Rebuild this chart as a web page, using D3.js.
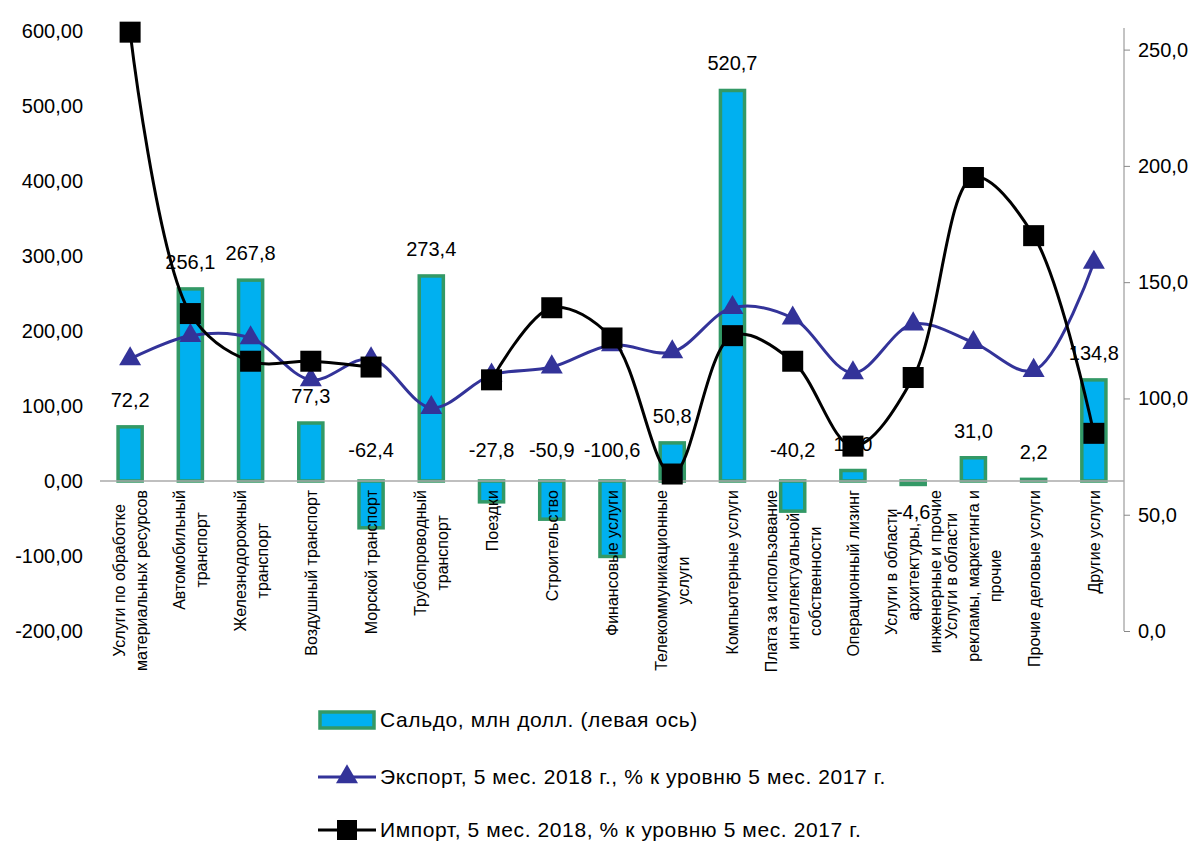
<!DOCTYPE html>
<html>
<head>
<meta charset="utf-8">
<script src="https://cdn.jsdelivr.net/npm/d3@7"></script>
<style>
body { margin: 0; background: #fff; }
text { font-family: Arial, "Liberation Sans", sans-serif; fill: #000; }
</style>
</head>
<body>
<div id="chart"></div>
<script>
// categories (line breaks as in the original chart)
var categories = [
  "Услуги по обработке\nматериальных ресурсов",
  "Автомобильный\nтранспорт",
  "Железнодорожный\nтранспорт",
  "Воздушный транспорт",
  "Морской транспорт",
  "Трубопроводный\nтранспорт",
  "Поездки",
  "Строительство",
  "Финансовые услуги",
  "Телекоммуникационные\nуслуги",
  "Компьютерные услуги",
  "Плата за использование\nинтеллектуальной\nсобственности",
  "Операционный лизинг",
  "Услуги в области\nархитектуры,\nинженерные и прочие",
  "Услуги в области\nрекламы, маркетинга и\nпрочие",
  "Прочие деловые услуги",
  "Другие услуги"
];
// сальдо, млн долл. (left axis)
var saldo = [72.2, 256.1, 267.8, 77.3, -62.4, 273.4, -27.8, -50.9, -100.6,
             50.8, 520.7, -40.2, 14.0, -4.6, 31.0, 2.2, 134.8];
// экспорт, % (right axis)
var exportPct = [117, 127, 126, 108, 117, 96, 110, 113.5, 123,
                 120, 139, 134.5, 111, 132, 124, 112, 158.5];
// импорт, % (right axis); no value for Трубопроводный транспорт
var importPct = [257.5, 136.5, 116, 116, 113.5, null, 108, 139, 126,
                 67.5, 127, 116, 79.5, 109, 195, 170, 85];
var leftTicks = [-200, -100, 0, 100, 200, 300, 400, 500, 600];
var rightTicks = [0, 50, 100, 150, 200, 250];
var legendNames = [
  "Сальдо, млн долл. (левая ось)",
  "Экспорт, 5 мес. 2018 г., % к уровню 5 мес. 2017 г.",
  "Импорт, 5 мес. 2018, % к уровню 5 мес. 2017 г."
];

var w = 1197, h = 842;
var mLeft = 100, mRight = 1124, mTop = 31, mBottom = 631;

var svg = d3.select("#chart").append("svg")
  .attr("width", w).attr("height", h);

var x = d3.scaleBand()
  .domain(d3.range(categories.length))
  .range([mLeft, mRight])
  .paddingInner(0.6)
  .paddingOuter(0.3);
var y = d3.scaleLinear().domain([-200, 600]).range([mBottom, mTop]);
var y2 = d3.scaleLinear().domain([0, 258]).range([mBottom, mTop]);

var fmt2 = function(v) { return d3.format(".2f")(v).replace(".", ",").replace("−", "-"); };
var fmt1 = function(v) { return d3.format(".1f")(v).replace(".", ",").replace("−", "-"); };

// left axis (labels only)
var leftAxis = d3.axisLeft(y).tickValues(leftTicks).tickSize(0).tickPadding(17)
  .tickFormat(fmt2);
var gl = svg.append("g").attr("transform", "translate(" + mLeft + ",0)").call(leftAxis);
gl.select(".domain").remove();
gl.selectAll("text").attr("font-size", "20px").attr("fill", "#000")
  .style("font-family", "Arial, 'Liberation Sans', sans-serif");

// right axis
var rightAxis = d3.axisRight(y2).tickValues(rightTicks).tickSize(6).tickPadding(8)
  .tickFormat(fmt1);
var gr = svg.append("g").attr("transform", "translate(" + mRight + ",0)").call(rightAxis);
gr.select(".domain").attr("stroke", "#888").attr("d", "M0," + (mTop - 3) + "V" + mBottom);
gr.selectAll(".tick line").attr("stroke", "#888");
gr.selectAll("text").attr("font-size", "20px").attr("fill", "#000")
  .style("font-family", "Arial, 'Liberation Sans', sans-serif");

// bars
svg.selectAll("rect.bar")
  .data(saldo)
  .enter()
  .append("rect")
  .attr("class", "bar")
  .attr("x", function(d, i) { return x(i); })
  .attr("width", x.bandwidth())
  .attr("y", function(d) { return y(Math.max(0, d)); })
  .attr("height", function(d) { return Math.abs(y(d) - y(0)); })
  .attr("fill", "#00b0f0")
  .attr("stroke", "#339966")
  .attr("stroke-width", 3.5);

// zero line
svg.append("line")
  .attr("x1", mLeft).attr("x2", mRight)
  .attr("y1", y(0)).attr("y2", y(0))
  .attr("stroke", "#aaa").attr("stroke-width", 1.5);

// bar value labels
svg.selectAll("text.val")
  .data(saldo)
  .enter()
  .append("text")
  .attr("class", "val")
  .text(function(d) { return fmt1(d); })
  .attr("x", function(d, i) { return x(i) + x.bandwidth() / 2; })
  .attr("y", function(d) {
    if (d >= 0) return y(d) - 20;
    if (d > -10) return y(0) + 38;
    return y(0) - 24;
  })
  .attr("font-size", "20px")
  .attr("text-anchor", "middle");

// category labels, rotated
var catG = svg.selectAll("g.cat")
  .data(categories)
  .enter()
  .append("g")
  .attr("class", "cat")
  .attr("transform", function(d, i) {
    return "translate(" + (x(i) + x.bandwidth() / 2) + ",490) rotate(-90)";
  });
catG.each(function(d) {
  var g = d3.select(this);
  var lines = d.split("\n");
  var n = lines.length;
  var lh = 22;
  var texts = lines.map(function(s, k) {
    return g.append("text")
      .text(s)
      .attr("font-size", "16px")
      .attr("text-anchor", "middle")
      .attr("y", (k - (n - 1) / 2) * lh + 6);
  });
  var maxLen = d3.max(texts, function(t) { return t.node().getComputedTextLength(); });
  texts.forEach(function(t) { t.attr("x", -maxLen / 2); });
});

// lines
var cx = function(i) { return x(i) + x.bandwidth() / 2; };
var exportLine = d3.line()
  .x(function(d, i) { return cx(i); })
  .y(function(d) { return y2(d); })
  .curve(d3.curveCatmullRom.alpha(0.5));
var importLine = d3.line()
  .defined(function(d) { return d !== null; })
  .x(function(d, i) { return cx(i); })
  .y(function(d) { return y2(d); })
  .curve(d3.curveCatmullRom.alpha(0.5));

svg.append("path")
  .attr("d", exportLine(exportPct))
  .attr("fill", "none")
  .attr("stroke", "#333399")
  .attr("stroke-width", 3);

var tri = d3.symbol().type(d3.symbolTriangle).size(210);
svg.selectAll("path.tri")
  .data(exportPct)
  .enter()
  .append("path")
  .attr("class", "tri")
  .attr("d", tri)
  .attr("transform", function(d, i) { return "translate(" + cx(i) + "," + y2(d) + ")"; })
  .attr("fill", "#333399");

svg.append("path")
  .attr("d", importLine(importPct))
  .attr("fill", "none")
  .attr("stroke", "#000")
  .attr("stroke-width", 3);

svg.selectAll("rect.sq")
  .data(importPct.map(function(d, i) { return { v: d, i: i }; }).filter(function(d) { return d.v !== null; }))
  .enter()
  .append("rect")
  .attr("class", "sq")
  .attr("x", function(d) { return cx(d.i) - 10.5; })
  .attr("y", function(d) { return y2(d.v) - 10.5; })
  .attr("width", 21).attr("height", 21)
  .attr("fill", "#000");

// legend
var lg = svg.append("g");
var ly = [720, 777, 830];
lg.append("rect")
  .attr("x", 320).attr("y", ly[0] - 8).attr("width", 54).attr("height", 16)
  .attr("fill", "#00b0f0").attr("stroke", "#339966").attr("stroke-width", 3.5);
lg.append("line")
  .attr("x1", 318).attr("x2", 376).attr("y1", ly[1]).attr("y2", ly[1])
  .attr("stroke", "#333399").attr("stroke-width", 3);
lg.append("path")
  .attr("d", tri)
  .attr("transform", "translate(347," + ly[1] + ")")
  .attr("fill", "#333399");
lg.append("line")
  .attr("x1", 318).attr("x2", 376).attr("y1", ly[2]).attr("y2", ly[2])
  .attr("stroke", "#000").attr("stroke-width", 3);
lg.append("rect")
  .attr("x", 337).attr("y", ly[2] - 10).attr("width", 20).attr("height", 20)
  .attr("fill", "#000");
lg.selectAll("text")
  .data(legendNames)
  .enter()
  .append("text")
  .text(function(d) { return d; })
  .attr("x", 380)
  .attr("y", function(d, i) { return ly[i] + 7; })
  .attr("font-size", "21px")
  .attr("letter-spacing", "0.6px");
</script>
</body>
</html>
